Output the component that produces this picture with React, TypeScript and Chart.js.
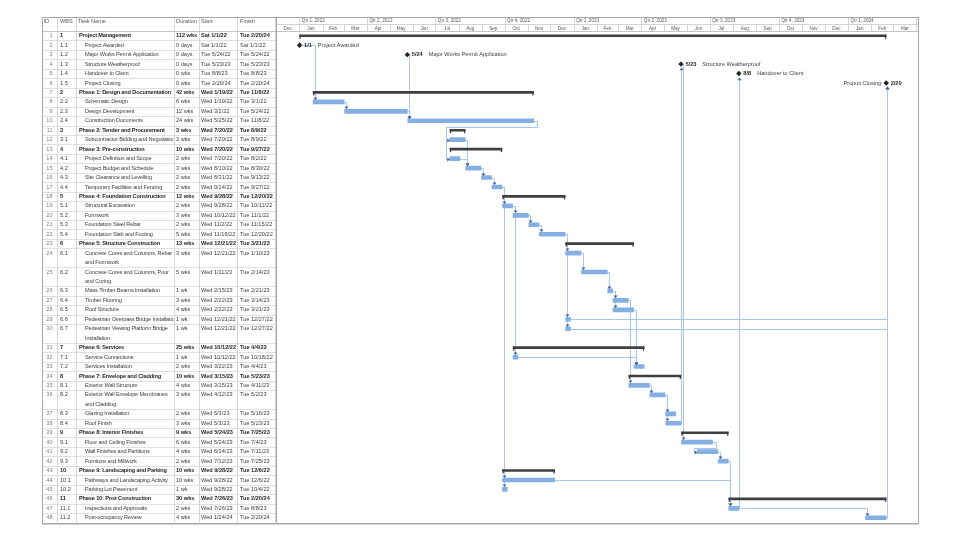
import React, { useEffect, useRef } from 'react';
import { Chart, registerables } from 'chart.js';

Chart.register(...registerables);

// ---------------- data ----------------
const wbs = [
  '1', '1.1', '1.2', '1.3', '1.4', '1.5', '2', '2.2', '2.3', '2.4', '3', '3.1', '4', '4.1', '4.2', '4.3',
  '4.4', '5', '5.1', '5.2', '5.3', '5.4', '6', '6.1', '6.2', '6.3', '6.4', '6.5', '6.6', '6.7', '7', '7.1',
  '7.2', '8', '8.1', '8.2', '8.3', '8.4', '9', '9.1', '9.2', '9.3', '10', '10.1', '10.2', '11', '11.1', '11.2',
];

const taskNames = [
  'Project Management',
  'Project Awarded',
  'Major Works Permit Application',
  'Structure Weatherproof',
  'Handover to Client',
  'Project Closing',
  'Phase 1: Design and Documentation',
  'Schematic Design',
  'Design Development',
  'Construction Documents',
  'Phase 2: Tender and Procurement',
  'Subcontractor Bidding and Negotiation',
  'Phase 3: Pre-construction',
  'Project Definition and Scope',
  'Project Budget and Schedule',
  'Site Clearance and Levelling',
  'Temporary Facilities and Fencing',
  'Phase 4: Foundation Construction',
  'Structural Excavation',
  'Formwork',
  'Foundation Steel Rebar',
  'Foundation Slab and Footing',
  'Phase 5: Structure Construction',
  'Concrete Cores and Columns, Rebar\nand Formwork',
  'Concrete Cores and Columns, Pour\nand Curing',
  'Mass Timber Beams Installation',
  'Timber Flooring',
  'Roof Structure',
  'Pedestrian Overpass Bridge Installation',
  'Pedestrian Viewing Platform Bridge\nInstallation',
  'Phase 6: Services',
  'Service Connections',
  'Services Installation',
  'Phase 7: Envelope and Cladding',
  'Exterior Wall Structure',
  'Exterior Wall Envelope Membranes\nand Cladding',
  'Glazing Installation',
  'Roof Finish',
  'Phase 8: Interior Finishes',
  'Floor and Ceiling Finishes',
  'Wall Finishes and Partitions',
  'Furniture and Millwork',
  'Phase 9: Landscaping and Parking',
  'Pathways and Landscaping Activity',
  'Parking Lot Pavement',
  'Phase 10: Post Construction',
  'Inspections and Approvals',
  'Post-occupancy Review',
];

const durations = [
  '112 wks', '0 days', '0 days', '0 days', '0 wks', '0 wks', '42 wks', '6 wks', '12 wks', '24 wks', '3 wks', '3 wks',
  '10 wks', '2 wks', '3 wks', '2 wks', '2 wks', '12 wks', '2 wks', '3 wks', '2 wks', '5 wks', '13 wks', '3 wks',
  '5 wks', '1 wk', '3 wks', '4 wks', '1 wk', '1 wk', '25 wks', '1 wk', '2 wks', '10 wks', '4 wks', '3 wks',
  '2 wks', '3 wks', '9 wks', '6 wks', '4 wks', '2 wks', '10 wks', '10 wks', '1 wk', '30 wks', '2 wks', '4 wks',
];

const starts = [
  'Sat 1/1/22', 'Sat 1/1/22', 'Tue 5/24/22', 'Tue 5/23/23', 'Tue 8/8/23', 'Tue 2/20/24', 'Wed 1/19/22', 'Wed 1/19/22',
  'Wed 3/2/22', 'Wed 5/25/22', 'Wed 7/20/22', 'Wed 7/20/22', 'Wed 7/20/22', 'Wed 7/20/22', 'Wed 8/10/22', 'Wed 8/31/22',
  'Wed 9/14/22', 'Wed 9/28/22', 'Wed 9/28/22', 'Wed 10/12/22', 'Wed 11/2/22', 'Wed 11/16/22', 'Wed 12/21/22', 'Wed 12/21/22',
  'Wed 1/11/23', 'Wed 2/15/23', 'Wed 2/22/23', 'Wed 2/22/23', 'Wed 12/21/22', 'Wed 12/21/22', 'Wed 10/12/22', 'Wed 10/12/22',
  'Wed 3/22/23', 'Wed 3/15/23', 'Wed 3/15/23', 'Wed 4/12/23', 'Wed 5/3/23', 'Wed 5/3/23', 'Wed 5/24/23', 'Wed 5/24/23',
  'Wed 6/14/23', 'Wed 7/12/23', 'Wed 9/28/22', 'Wed 9/28/22', 'Wed 9/28/22', 'Wed 7/26/23', 'Wed 7/26/23', 'Wed 1/24/24',
];

const finishes = [
  'Tue 2/20/24', 'Sat 1/1/22', 'Tue 5/24/22', 'Tue 5/23/23', 'Tue 8/8/23', 'Tue 2/20/24', 'Tue 11/8/22', 'Tue 3/1/22',
  'Tue 5/24/22', 'Tue 11/8/22', 'Tue 8/9/22', 'Tue 8/9/22', 'Tue 9/27/22', 'Tue 8/2/22', 'Tue 8/30/22', 'Tue 9/13/22',
  'Tue 9/27/22', 'Tue 12/20/22', 'Tue 10/11/22', 'Tue 11/1/22', 'Tue 11/15/22', 'Tue 12/20/22', 'Tue 3/21/23', 'Tue 1/10/23',
  'Tue 2/14/23', 'Tue 2/21/23', 'Tue 3/14/23', 'Tue 3/21/23', 'Tue 12/27/22', 'Tue 12/27/22', 'Tue 4/4/23', 'Tue 10/18/22',
  'Tue 4/4/23', 'Tue 5/23/23', 'Tue 4/11/23', 'Tue 5/2/23', 'Tue 5/16/23', 'Tue 5/23/23', 'Tue 7/25/23', 'Tue 7/4/23',
  'Tue 7/11/23', 'Tue 7/25/23', 'Tue 12/6/22', 'Tue 12/6/22', 'Tue 10/4/22', 'Tue 2/20/24', 'Tue 8/8/23', 'Tue 2/20/24',
];

// 'S' summary, 'M' milestone, 'T' task
const taskKinds = [
  'S', 'M', 'M', 'M', 'M', 'M', 'S', 'T', 'T', 'T', 'S', 'T', 'S', 'T', 'T', 'T',
  'T', 'S', 'T', 'T', 'T', 'T', 'S', 'T', 'T', 'T', 'T', 'T', 'T', 'T', 'S', 'T',
  'T', 'S', 'T', 'T', 'T', 'T', 'S', 'T', 'T', 'T', 'S', 'T', 'T', 'S', 'T', 'T',
];

// hour of day at which each milestone sits (in table order)
const milestoneHours = [8, 17, 17, 17, 17];

// finish-to-start links, by task ID [predecessor, successor]
const links: [number, number][] = [
  [2, 8], [8, 9], [9, 10], [3, 10], [10, 12], [10, 14], [12, 15], [14, 15], [15, 16], [16, 17],
  [17, 19], [17, 44], [17, 45], [19, 20], [19, 32], [20, 21], [21, 22], [22, 24], [22, 29], [22, 30],
  [24, 25], [25, 26], [26, 27], [26, 28], [27, 35], [28, 33], [32, 33], [35, 36], [36, 37], [36, 38],
  [38, 4], [4, 40], [40, 41], [41, 42], [42, 47], [44, 47], [47, 5], [47, 48], [48, 6], [29, 6], [30, 6],
];

const tableHeaders = ['ID', 'WBS', 'Task Name', 'Duration', 'Start', 'Finish'];
const monthNames = ['Jan', 'Feb', 'Mar', 'Apr', 'May', 'Jun', 'Jul', 'Aug', 'Sep', 'Oct', 'Nov', 'Dec'];
const timescaleStart = '12/1/21';
const timescaleEnd = '4/3/24';

// ---------------- helpers ----------------
const FONT = '"Liberation Sans", Arial, Helvetica, sans-serif';
const BASE = Date.UTC(2022, 0, 1);
const DAY = 86400000;

function dayOf(s: string): number {
  const part = s.includes(' ') ? s.split(' ')[1] : s;
  const [m, d, y] = part.split('/').map(Number);
  return (Date.UTC(2000 + y, m - 1, d) - BASE) / DAY;
}

const lineCounts = taskNames.map((n) => n.split('\n').length);
const rowStartUnit: number[] = lineCounts.map((_, i) => lineCounts.slice(0, i).reduce((a, b) => a + b, 0));
const totalUnits = lineCounts.reduce((a, b) => a + b, 0);
const rowCenter = (i: number) => rowStartUnit[i] + 0.5;

const milestoneRows = taskKinds.map((k, i) => (k === 'M' ? i : -1)).filter((i) => i >= 0);
const milestoneValue = (i: number) => dayOf(starts[i]) + milestoneHours[milestoneRows.indexOf(i)] / 24;
const startValue = (i: number) => (taskKinds[i] === 'M' ? milestoneValue(i) : dayOf(starts[i]) + 8 / 24);
const endValue = (i: number) => (taskKinds[i] === 'M' ? milestoneValue(i) : dayOf(finishes[i]) + 17 / 24);

const taskBars = taskKinds
  .map((k, i) => (k === 'T' ? { x: [startValue(i), endValue(i)], y: rowCenter(i) } : null))
  .filter(Boolean);
const summaryBars = taskKinds
  .map((k, i) => (k === 'S' ? { x: [startValue(i), endValue(i)], y: rowCenter(i) } : null))
  .filter(Boolean);
const milestonePts = milestoneRows.map((i) => ({ x: milestoneValue(i), y: rowCenter(i) }));

const COLS = [42, 57, 76, 174, 199, 237, 276];
const HEAD_TOP = 17;

function hline(ctx: CanvasRenderingContext2D, x0: number, x1: number, y: number) {
  ctx.beginPath();
  ctx.moveTo(x0, y);
  ctx.lineTo(x1, y);
  ctx.stroke();
}
function vline(ctx: CanvasRenderingContext2D, x: number, y0: number, y1: number) {
  ctx.beginPath();
  ctx.moveTo(x, y0);
  ctx.lineTo(x, y1);
  ctx.stroke();
}
const crisp = (v: number) => Math.round(v) + 0.5;

function drawLinks(chart: any, phase: 'lines' | 'arrows') {
  const ctx: CanvasRenderingContext2D = chart.ctx;
  const xs = chart.scales.x;
  const ys = chart.scales.y;
  ctx.save();
  ctx.lineWidth = 1;
  ctx.strokeStyle = '#A9C5EB';
  ctx.fillStyle = '#3B6198';
  links.forEach(([from, to]) => {
    const p = from - 1;
    const s = to - 1;
    const xe = xs.getPixelForValue(endValue(p));
    const xst = xs.getPixelForValue(startValue(s));
    const yp = crisp(ys.getPixelForValue(rowCenter(p)));
    const ysc = crisp(ys.getPixelForValue(rowCenter(s)));
    const sMile = taskKinds[s] === 'M';
    const half = sMile ? 3.2 : 2.5;
    if (xst >= xe - 1) {
      const xv = crisp(Math.max(xst, xe) + (sMile ? 0.5 : 1.5));
      const down = ysc > yp;
      const tipY = down ? ysc - half : ysc + half;
      if (phase === 'lines') {
        ctx.beginPath();
        ctx.moveTo(xe, yp);
        ctx.lineTo(xv, yp);
        ctx.lineTo(xv, tipY);
        ctx.stroke();
      } else {
        const dir = down ? 1 : -1;
        ctx.beginPath();
        ctx.moveTo(xv, tipY);
        ctx.lineTo(xv - 2, tipY - dir * 2.6);
        ctx.lineTo(xv + 2, tipY - dir * 2.6);
        ctx.closePath();
        ctx.fill();
      }
    } else {
      const xr = crisp(xe + 3);
      const yb = crisp(yp + 5.5);
      const xl = crisp(xst - 3.5);
      if (phase === 'lines') {
        ctx.beginPath();
        ctx.moveTo(xe, yp);
        ctx.lineTo(xr, yp);
        ctx.lineTo(xr, yb);
        ctx.lineTo(xl, yb);
        ctx.lineTo(xl, ysc);
        ctx.lineTo(xst, ysc);
        ctx.stroke();
      } else {
        ctx.beginPath();
        ctx.moveTo(xst, ysc);
        ctx.lineTo(xst - 2.6, ysc - 2);
        ctx.lineTo(xst - 2.6, ysc + 2);
        ctx.closePath();
        ctx.fill();
      }
    }
  });
  ctx.restore();
}

function drawSummaryTicks(chart: any) {
  const ctx: CanvasRenderingContext2D = chart.ctx;
  const xs = chart.scales.x;
  const ys = chart.scales.y;
  ctx.save();
  ctx.fillStyle = '#3F3F3F';
  taskKinds.forEach((k, i) => {
    if (k !== 'S') return;
    const y = ys.getPixelForValue(rowCenter(i));
    const x0 = xs.getPixelForValue(startValue(i));
    const x1 = xs.getPixelForValue(endValue(i));
    ctx.fillRect(x0, y - 1, 1.3, 4);
    ctx.fillRect(x1 - 1.3, y - 1, 1.3, 4);
  });
  ctx.restore();
}

function drawMilestoneLabels(chart: any) {
  const ctx: CanvasRenderingContext2D = chart.ctx;
  const xs = chart.scales.x;
  const ys = chart.scales.y;
  const right = chart.chartArea.right;
  ctx.save();
  ctx.textBaseline = 'middle';
  milestoneRows.forEach((i) => {
    const x = xs.getPixelForValue(milestoneValue(i));
    const y = ys.getPixelForValue(rowCenter(i));
    const parts = finishes[i].split(' ')[1].split('/');
    const dateLabel = `${parts[0]}/${parts[1]}`;
    ctx.font = `bold 5.6px ${FONT}`;
    ctx.fillStyle = '#262626';
    ctx.textAlign = 'left';
    ctx.fillText(dateLabel, x + 4.5, y);
    const dw = ctx.measureText(dateLabel).width;
    ctx.font = `5.6px ${FONT}`;
    ctx.fillStyle = '#404040';
    const nw = ctx.measureText(taskNames[i]).width;
    if (x + 4.5 + dw + 6 + nw > right - 4) {
      ctx.textAlign = 'right';
      ctx.fillText(taskNames[i], x - 5, y);
    } else {
      ctx.fillText(taskNames[i], x + 4.5 + dw + 6, y);
    }
  });
  ctx.restore();
}

function drawTable(chart: any) {
  const ctx: CanvasRenderingContext2D = chart.ctx;
  const ys = chart.scales.y;
  const headBottom = crisp(ys.getPixelForValue(0));
  const bottom = ys.getPixelForValue(totalUnits);
  ctx.save();
  ctx.fillStyle = '#FFFFFF';
  ctx.fillRect(COLS[0], HEAD_TOP, COLS[6] - COLS[0], bottom - HEAD_TOP);

  // row lines
  ctx.strokeStyle = '#E0E0E0';
  ctx.lineWidth = 1;
  taskNames.forEach((_, i) => {
    const yb = crisp(ys.getPixelForValue(rowStartUnit[i] + lineCounts[i]));
    hline(ctx, COLS[0], COLS[6], yb);
  });
  // column lines
  ctx.strokeStyle = '#D6D6D6';
  for (let c = 1; c < COLS.length - 1; c++) vline(ctx, COLS[c] + 0.5, HEAD_TOP, bottom);

  // header
  ctx.font = `5.6px ${FONT}`;
  ctx.fillStyle = '#595959';
  ctx.textBaseline = 'middle';
  ctx.textAlign = 'left';
  const hx = [43.5, 60, 78, 176, 201, 240];
  tableHeaders.forEach((h, i) => ctx.fillText(h, hx[i], 21.3));

  // rows
  taskNames.forEach((name, i) => {
    const y = ys.getPixelForValue(rowCenter(i));
    const bold = taskKinds[i] === 'S';
    ctx.textAlign = 'right';
    ctx.font = `5.6px ${FONT}`;
    ctx.fillStyle = '#808080';
    ctx.fillText(String(i + 1), 52.5, y);
    ctx.textAlign = 'left';
    ctx.font = `${bold ? 'bold ' : ''}5.6px ${FONT}`;
    ctx.fillStyle = bold ? '#1F1F1F' : '#404040';
    ctx.fillText(wbs[i], 60, y);
    const level = wbs[i].split('.').length;
    ctx.save();
    ctx.beginPath();
    ctx.rect(COLS[2] + 1, y - 6, COLS[3] - COLS[2] - 1.5, 30);
    ctx.clip();
    (ctx as any).letterSpacing = '-0.15px';
    name.split('\n').forEach((ln, k) => {
      ctx.fillText(ln, 79 + (level - 1) * 6, ys.getPixelForValue(rowStartUnit[i] + 0.5 + k));
    });
    (ctx as any).letterSpacing = '0px';
    ctx.restore();
    ctx.fillText(durations[i], 176, y);
    ctx.fillText(starts[i], 201, y);
    ctx.fillText(finishes[i], 240, y);
  });

  ctx.strokeStyle = '#C4C4C4';
  hline(ctx, COLS[0], chart.chartArea.right, headBottom);
  ctx.restore();
}

function drawTimescale(chart: any) {
  const ctx: CanvasRenderingContext2D = chart.ctx;
  const xs = chart.scales.x;
  const L = chart.chartArea.left;
  const R = chart.chartArea.right;
  const mid = 24.5;
  const B = crisp(chart.scales.y.getPixelForValue(0));
  ctx.save();
  ctx.lineWidth = 1;
  ctx.strokeStyle = '#D4D4D4';
  hline(ctx, L, R, mid);
  ctx.font = `4.6px ${FONT}`;
  ctx.fillStyle = '#595959';
  ctx.textBaseline = 'middle';
  for (let m = -1; m <= 30; m++) {
    const d0 = (Date.UTC(2022, m, 1) - BASE) / DAY;
    const d1 = (Date.UTC(2022, m + 1, 1) - BASE) / DAY;
    const x0 = xs.getPixelForValue(d0);
    const x1 = xs.getPixelForValue(d1);
    if (x0 >= R - 0.5) break;
    const vx0 = Math.max(x0, L);
    const vx1 = Math.min(x1, R);
    const mi = ((m % 12) + 12) % 12;
    if (x0 > L + 0.5) vline(ctx, crisp(x0), mid, B);
    if (vx1 - vx0 > 12) {
      ctx.textAlign = 'center';
      ctx.fillText(monthNames[mi], (vx0 + vx1) / 2, 28.8);
    }
    if (mi % 3 === 0) {
      if (x0 > L + 0.5) vline(ctx, crisp(x0), HEAD_TOP, mid);
      if (x0 >= L && x0 < R - 20) {
        ctx.textAlign = 'left';
        const yr = 2022 + Math.floor(m / 12);
        ctx.fillText(`Qtr ${mi / 3 + 1}, ${yr}`, x0 + 2.5, 20.8);
      }
    }
  }
  ctx.restore();
}

function drawFrame(chart: any) {
  const ctx: CanvasRenderingContext2D = chart.ctx;
  const a = chart.chartArea;
  ctx.save();
  ctx.strokeStyle = '#A8A8A8';
  ctx.lineWidth = 1;
  ctx.strokeRect(COLS[0] + 0.5, HEAD_TOP + 0.5, Math.round(a.right) - COLS[0], Math.round(a.bottom) - HEAD_TOP);
  ctx.lineWidth = 1.5;
  vline(ctx, COLS[6] + 0.25, HEAD_TOP, a.bottom);
  hline(ctx, COLS[0], a.right, Math.round(a.bottom) + 0.75);
  ctx.restore();
}

const ganttPlugin = {
  id: 'ganttExtras',
  beforeDatasetsDraw(chart: any) {
    drawLinks(chart, 'lines');
  },
  afterDatasetsDraw(chart: any) {
    drawLinks(chart, 'arrows');
    drawSummaryTicks(chart);
    drawMilestoneLabels(chart);
  },
  afterDraw(chart: any) {
    drawTable(chart);
    drawTimescale(chart);
    drawFrame(chart);
  },
};

export default function App() {
  const ref = useRef<HTMLCanvasElement | null>(null);
  useEffect(() => {
    if (!ref.current) return;
    const chart = new Chart(ref.current, {
      type: 'bar',
      data: {
        datasets: [
          {
            type: 'scatter',
            label: 'Milestones',
            data: milestonePts,
            pointStyle: 'rectRot',
            pointRadius: 2.7,
            backgroundColor: '#1F1F1F',
            borderWidth: 0,
            order: 0,
          } as any,
          {
            type: 'bar',
            label: 'Summary',
            data: summaryBars as any,
            indexAxis: 'y',
            grouped: false,
            barThickness: 2,
            backgroundColor: '#3F3F3F',
            borderWidth: 0,
            order: 1,
          } as any,
          {
            type: 'bar',
            label: 'Tasks',
            data: taskBars as any,
            indexAxis: 'y',
            grouped: false,
            barThickness: 4,
            backgroundColor: '#84AFE5',
            borderWidth: 0,
            order: 2,
          } as any,
        ],
      },
      options: {
        animation: false,
        responsive: false,
        maintainAspectRatio: false,
        devicePixelRatio: 1,
        events: [],
        layout: { padding: { left: 276, right: 42, top: 31, bottom: 17.5 } },
        scales: {
          x: { type: 'linear', min: dayOf(timescaleStart), max: dayOf(timescaleEnd), display: false, offset: false },
          y: { type: 'linear', min: 0, max: totalUnits, reverse: true, display: false, offset: false },
        },
        plugins: { legend: { display: false }, tooltip: { enabled: false } },
      } as any,
      plugins: [ganttPlugin],
    });
    return () => chart.destroy();
  }, []);
  return (
    <div style={{ position: 'absolute', left: 0, top: 0, width: 960, height: 540, background: '#fff' }}>
      <canvas ref={ref} width={960} height={540} style={{ display: 'block', width: 960, height: 540 }} />
    </div>
  );
}
